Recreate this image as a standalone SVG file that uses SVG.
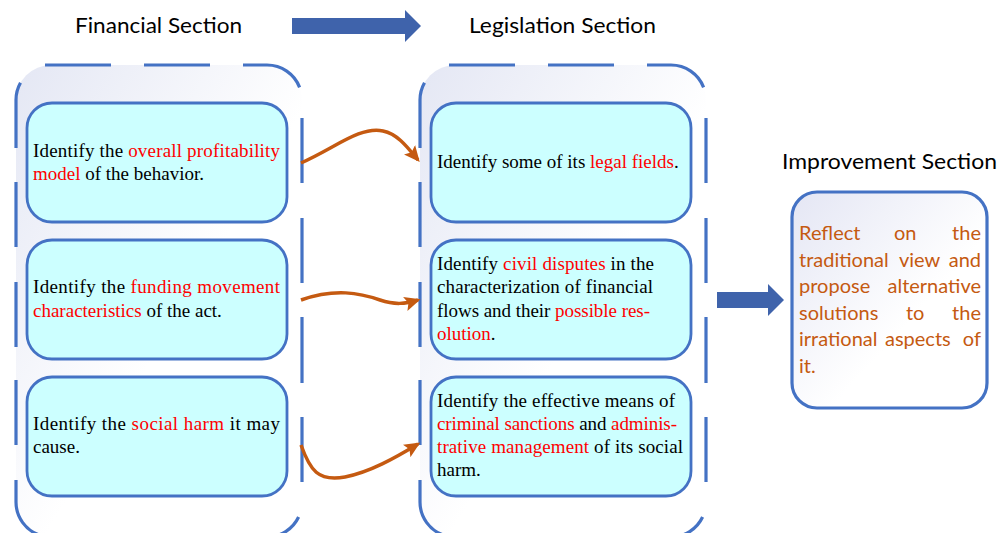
<svg xmlns="http://www.w3.org/2000/svg" width="999" height="533" viewBox="0 0 999 533">
<style>
.title{font-family:Lato,"Liberation Sans",sans-serif;font-size:21px;fill:#000}
.bt{font-family:"Liberation Serif","Times New Roman",serif;font-size:19px;fill:#000}
.r{fill:#FF0000}
.imp{font-family:Lato,"Liberation Sans",sans-serif;font-size:20px;fill:#C55A11}
.cfill{fill:url(#gcont);stroke:none}
.cdash{fill:none;stroke:#4472C4;stroke-width:3.2;stroke-linecap:butt}
.ibox{fill:#CCFFFF;stroke:#4472C4;stroke-width:2.8}
.barrow{fill:#3F63AB}
.conn{fill:none;stroke:#C55A11;stroke-width:3.5}
</style>
<defs>
<linearGradient id="gcont" x1="0" y1="0" x2="1" y2="1">
<stop offset="0" stop-color="#E4E7F4"/>
<stop offset="0.55" stop-color="#FFFFFF"/>
<stop offset="1" stop-color="#FFFFFF"/>
</linearGradient>
<linearGradient id="gimp" x1="0" y1="0" x2="1" y2="1">
<stop offset="0" stop-color="#E4E6F4"/>
<stop offset="0.6" stop-color="#FFFFFF"/>
<stop offset="1" stop-color="#FFFFFF"/>
</linearGradient>
<marker id="ah" viewBox="0 0 12 12" refX="10" refY="6" markerWidth="16" markerHeight="16" markerUnits="userSpaceOnUse" orient="auto">
<path d="M0,0.5 L12,6 L0,11.5 L2.5,6 z" fill="#C55A11"/>
</marker>
<g id="container">
<rect class="cfill" x="16" y="65" width="286" height="472" rx="35" ry="35"/>
<path class="cdash" d="M45,65 H111 M144,65 H210 M243,65 H267 A35,35 0 0 1 299.6,87.3 M302,118 V183 M302,218 V283 M302,317 V383 M302,417 V482 M298.6,517 A35,35 0 0 1 267,537 H243 M210,537 H144 M111,537 H45 M40.2,535.3 A35,35 0 0 1 16,502 V480 M16,445 V380 M16,347 V282 M16,247 V182 M16,148 V100 A35,35 0 0 1 20.5,82.8"/>
</g>
</defs>

<g id="title-financial"><text class="title" x="75" y="33" textLength="167" lengthAdjust="spacingAndGlyphs">Financial Section</text></g>
<g id="title-legislation"><text class="title" x="469" y="33" textLength="187" lengthAdjust="spacingAndGlyphs">Legislation Section</text></g>
<g id="title-improvement"><text class="title" x="782" y="169" textLength="215" lengthAdjust="spacingAndGlyphs">Improvement Section</text></g>

<g id="arrow-top"><polygon class="barrow" points="292,18 405,18 405,10 421,26 405,42 405,34 292,34"/></g>

<g id="financial-section">
<use href="#container"/>
<g id="fin-1">
<rect class="ibox" x="27" y="103" width="260" height="119" rx="25" ry="25"/>
<text class="bt" x="33" y="157" textLength="247" lengthAdjust="spacing">Identify the <tspan class="r">overall profitability</tspan></text>
<text class="bt" x="33" y="180"><tspan class="r">model</tspan> of the behavior.</text>
</g>
<g id="fin-2">
<rect class="ibox" x="27" y="240" width="260" height="119" rx="25" ry="25"/>
<text class="bt" x="33" y="293" textLength="247" lengthAdjust="spacing">Identify the <tspan class="r">funding movement</tspan></text>
<text class="bt" x="33" y="317"><tspan class="r">characteristics</tspan> of the act.</text>
</g>
<g id="fin-3">
<rect class="ibox" x="27" y="377" width="260" height="119" rx="25" ry="25"/>
<text class="bt" x="33" y="430" textLength="247" lengthAdjust="spacing">Identify the <tspan class="r">social harm</tspan> it may</text>
<text class="bt" x="33" y="453">cause.</text>
</g>
</g>

<g id="legislation-section">
<use href="#container" transform="translate(404,0)"/>
<g id="leg-1">
<rect class="ibox" x="431" y="103" width="260" height="119" rx="25" ry="25"/>
<text class="bt" x="437" y="168">Identify some of its <tspan class="r">legal fields</tspan>.</text>
</g>
<g id="leg-2">
<rect class="ibox" x="431" y="240" width="260" height="119" rx="25" ry="25"/>
<text class="bt" x="437" y="270" textLength="217" lengthAdjust="spacing">Identify <tspan class="r">civil disputes</tspan> in the</text>
<text class="bt" x="437" y="293" textLength="216" lengthAdjust="spacing">characterization of financial</text>
<text class="bt" x="437" y="317" textLength="213" lengthAdjust="spacing">flows and their <tspan class="r">possible res-</tspan></text>
<text class="bt" x="437" y="340"><tspan class="r">olution</tspan>.</text>
</g>
<g id="leg-3">
<rect class="ibox" x="431" y="377" width="260" height="119" rx="25" ry="25"/>
<text class="bt" x="437" y="407" textLength="238" lengthAdjust="spacing">Identify the effective means of</text>
<text class="bt" x="437" y="430" textLength="240" lengthAdjust="spacing"><tspan class="r">criminal sanctions</tspan> and <tspan class="r">adminis-</tspan></text>
<text class="bt" x="437" y="453" textLength="246" lengthAdjust="spacing"><tspan class="r">trative management</tspan> of its social</text>
<text class="bt" x="437" y="476">harm.</text>
</g>
</g>

<g id="arrow-mid"><polygon class="barrow" points="717,292 768,292 768,284 784,300 768,316 768,308 717,308"/></g>

<g id="improvement-section">
<rect x="792" y="192" width="195" height="216" rx="25" ry="25" fill="url(#gimp)" stroke="#4472C4" stroke-width="3.2"/>
<text class="imp"><tspan x="799" y="240">Reflect</tspan><tspan x="894" y="240">on</tspan><tspan x="981" y="240" text-anchor="end">the</tspan></text>
<text class="imp"><tspan x="799" y="266.5">traditional</tspan><tspan x="899" y="266.5">view</tspan><tspan x="981" y="266.5" text-anchor="end">and</tspan></text>
<text class="imp"><tspan x="799" y="293">propose</tspan><tspan x="981" y="293" text-anchor="end">alternative</tspan></text>
<text class="imp"><tspan x="799" y="319.5">solutions</tspan><tspan x="906" y="319.5">to</tspan><tspan x="981" y="319.5" text-anchor="end">the</tspan></text>
<text class="imp"><tspan x="799" y="346">irrational</tspan><tspan x="885" y="346">aspects</tspan><tspan x="981" y="346" text-anchor="end">of</tspan></text>
<text class="imp"><tspan x="799" y="372.5">it.</tspan></text>
</g>

<g id="connectors">
<path class="conn" marker-end="url(#ah)" d="M301,163 C335,148 360,126 383,131 C398,134 408,148 418,160"/>
<path class="conn" marker-end="url(#ah)" d="M301,300 C335,288 360,293 380,300 C395,305 405,304 418,300"/>
<path class="conn" marker-end="url(#ah)" d="M301,445 C310,470 318,482 345,477 C370,472 395,458 418,444"/>
</g>
</svg>
